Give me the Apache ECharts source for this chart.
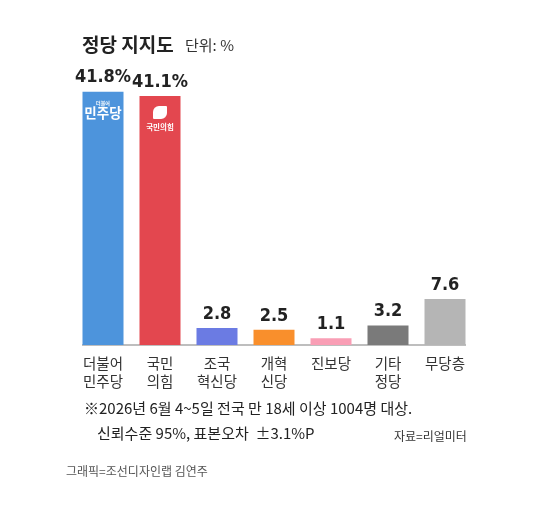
<!DOCTYPE html>
<html>
<head>
<meta charset="utf-8">
<script src="https://cdn.jsdelivr.net/npm/echarts@6/dist/echarts.min.js"></script>
<style>
  html, body { margin: 0; padding: 0; background: #fff; }
  #main { width: 556px; height: 506px; }
</style>
</head>
<body>
<div id="main"></div>
<script>
// 정당 이름 (두 줄)
const categories = ['더불어\n민주당', '국민\n의힘', '조국\n혁신당', '개혁\n신당', '진보당', '기타\n정당', '무당층'];
// 지지율 (%)
const values = [41.8, 41.1, 2.8, 2.5, 1.1, 3.2, 7.6];
const barColors = ['#4d94dc', '#e3474f', '#6b7be3', '#f98f2c', '#f99eb5', '#7a7a7a', '#b5b5b5'];
// 막대 안 로고 텍스트
const logos = ['logo1', 'logo2', null, null, null, null, null];

const numFont = "'DejaVu Sans Condensed', sans-serif";
const krFont = "'Noto Sans CJK KR', sans-serif";

const chart = echarts.init(document.getElementById('main'));

const option = {
  backgroundColor: '#fff',
  animation: false,
  grid: { left: 74.5, right: 82.5, top: 42, bottom: 161 },
  xAxis: {
    type: 'category',
    data: categories,
    axisLine: { show: false },
    axisTick: { show: false },
    axisLabel: {
      interval: 0,
      margin: 9,
      fontFamily: krFont,
      fontSize: 14.5,
      lineHeight: 18,
      color: '#333'
    }
  },
  yAxis: {
    type: 'value',
    min: 0,
    max: 50,
    show: false,
    splitLine: { show: false }
  },
  series: [
    {
      type: 'bar',
      barWidth: 41,
      data: values.map((v, i) => ({ value: v, itemStyle: { color: barColors[i] } })),
      label: {
        show: true,
        position: 'top',
        distance: 5,
        fontFamily: numFont,
        fontWeight: 'bold',
        fontSize: 18,
        color: '#222',
        formatter: p => p.dataIndex < 2 ? p.value + '%' : String(p.value)
      }
    },
    {
      // 로고용 투명 막대
      type: 'bar',
      barWidth: 41,
      barGap: '-100%',
      silent: true,
      itemStyle: { color: 'rgba(0,0,0,0)' },
      data: values.map((v, i) => logos[i] ? v : null),
      label: {
        show: true,
        position: 'insideTop',
        distance: 8,
        formatter: p => logos[p.dataIndex] === 'logo1'
          ? '{s|더불어}\n{b|민주당}'
          : '{icon|}\n{t|국민의힘}',
        rich: {
          s: { fontFamily: krFont, fontSize: 5, color: '#fff', lineHeight: 6, fontWeight: 'bold' },
          b: { fontFamily: krFont, fontSize: 13.5, color: '#fff', fontWeight: 'bold', lineHeight: 15 },
          icon: { backgroundColor: '#fff', width: 14, height: 13, borderRadius: [6, 1, 6, 1], lineHeight: 17 },
          t: { fontFamily: krFont, fontSize: 7.5, color: '#fff', fontWeight: 'bold', lineHeight: 13 }
        }
      }
    }
  ],
  graphic: [
    { type: 'line', shape: { x1: 82, y1: 345, x2: 466, y2: 345 }, style: { stroke: '#a8a8a8', lineWidth: 1.5 } },
    { type: 'text', left: 82, top: 35, style: { text: '정당 지지도', font: "bold 19px 'Noto Sans CJK KR'", fill: '#222' } },
    { type: 'text', left: 185, top: 38, style: { text: '단위: %', font: "15px 'Noto Sans CJK KR'", fill: '#333' } },
    { type: 'text', left: 84, top: 401, style: { text: '※2026년 6월 4~5일 전국 만 18세 이상 1004명 대상.', font: "15px 'Noto Sans CJK KR'", fill: '#222' } },
    { type: 'text', left: 97, top: 426, style: { text: '신뢰수준 95%, 표본오차  ±3.1%P', font: "15px 'Noto Sans CJK KR'", fill: '#222' } },
    { type: 'text', left: 394, top: 430, style: { text: '자료=리얼미터', font: "12px 'Noto Sans CJK KR'", fill: '#333' } },
    { type: 'text', left: 66, top: 465, style: { text: '그래픽=조선디자인랩 김연주', font: "12px 'Noto Sans CJK KR'", fill: '#555' } }
  ]
};

chart.setOption(option);
window.addEventListener('resize', function () {
  chart.resize();
});
</script>
</body>
</html>
